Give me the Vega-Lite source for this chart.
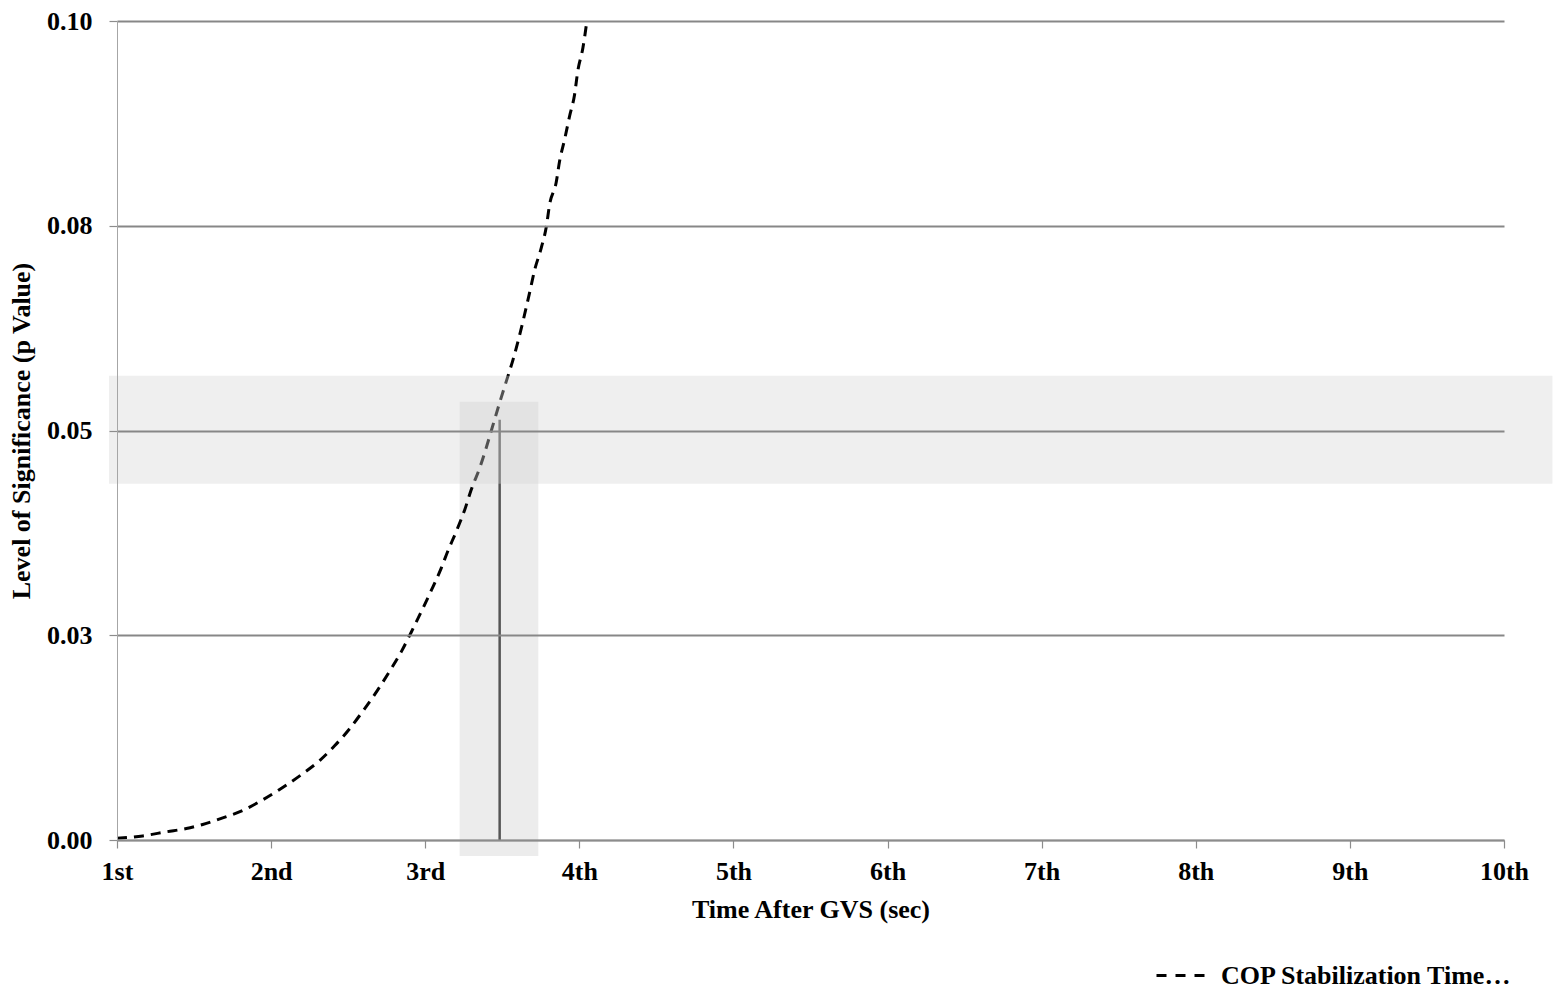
{
  "$schema": "https://vega.github.io/schema/vega-lite/v6.json",
  "width": 1387,
  "height": 819,
  "autosize": {"type": "none"},
  "padding": {"left": 117, "top": 21, "right": 49, "bottom": 157},
  "background": "#ffffff",
  "config": {
    "view": {"stroke": null},
    "font": "Liberation Serif"
  },
  "datasets": {
    "curve": [
      {"t": 1.000, "p": 0.0002},
      {"t": 1.167, "p": 0.0005},
      {"t": 1.320, "p": 0.0010},
      {"t": 1.450, "p": 0.0014},
      {"t": 1.556, "p": 0.0019},
      {"t": 1.686, "p": 0.0027},
      {"t": 1.815, "p": 0.0036},
      {"t": 1.945, "p": 0.0049},
      {"t": 2.075, "p": 0.0064},
      {"t": 2.205, "p": 0.0081},
      {"t": 2.315, "p": 0.0097},
      {"t": 2.412, "p": 0.0115},
      {"t": 2.510, "p": 0.0136},
      {"t": 2.594, "p": 0.0157},
      {"t": 2.691, "p": 0.0183},
      {"t": 2.769, "p": 0.0206},
      {"t": 2.845, "p": 0.0230},
      {"t": 2.910, "p": 0.0254},
      {"t": 2.985, "p": 0.0283},
      {"t": 3.040, "p": 0.0305},
      {"t": 3.104, "p": 0.0332},
      {"t": 3.145, "p": 0.0352},
      {"t": 3.202, "p": 0.0377},
      {"t": 3.256, "p": 0.0403},
      {"t": 3.299, "p": 0.0428},
      {"t": 3.353, "p": 0.0454},
      {"t": 3.396, "p": 0.0479},
      {"t": 3.437, "p": 0.0505},
      {"t": 3.483, "p": 0.0534},
      {"t": 3.526, "p": 0.0560},
      {"t": 3.569, "p": 0.0586},
      {"t": 3.677, "p": 0.0668},
      {"t": 3.710, "p": 0.0696},
      {"t": 3.753, "p": 0.0723},
      {"t": 3.786, "p": 0.0749},
      {"t": 3.807, "p": 0.0776},
      {"t": 3.850, "p": 0.0803},
      {"t": 3.872, "p": 0.0829},
      {"t": 3.904, "p": 0.0855},
      {"t": 3.937, "p": 0.0884},
      {"t": 3.969, "p": 0.0910},
      {"t": 3.990, "p": 0.0939},
      {"t": 4.023, "p": 0.0967},
      {"t": 4.049, "p": 0.1000}
    ],
    "timeBand": [{"t": 3.223, "t2": 3.734, "p": -0.00195, "p2": 0.0535}],
    "levelBand": [{"t": 0.948, "t2": 10.314, "p": 0.0435, "p2": 0.0567}],
    "marker": [{"t": 3.483, "p": 0, "p2": 0.0513}]
  },
  "encoding": {
    "x": {
      "field": "t",
      "type": "quantitative",
      "scale": {"domain": [1, 10], "nice": false, "zero": false},
      "axis": {
        "title": "Time After GVS (sec)",
        "values": [1, 2, 3, 4, 5, 6, 7, 8, 9, 10],
        "labelExpr": "datum.value == 1 ? '1st' : datum.value == 2 ? '2nd' : datum.value == 3 ? '3rd' : datum.value + 'th'",
        "labelFont": "Liberation Serif",
        "labelFontSize": 26,
        "labelFontWeight": "bold",
        "labelColor": "#000000",
        "labelPadding": 10,
        "labelFlush": false,
        "labelOverlap": false,
        "labelBound": false,
        "tickSize": 8,
        "tickColor": "#8c8c8c",
        "tickWidth": 1.2,
        "domainColor": "#8c8c8c",
        "domainWidth": 1.5,
        "grid": false,
        "titleFont": "Liberation Serif",
        "titleFontSize": 26,
        "titleFontWeight": "bold",
        "titleColor": "#000000",
        "titleBaseline": "alphabetic",
        "titleY": 77,
        "zindex": 1
      }
    },
    "y": {
      "field": "p",
      "type": "quantitative",
      "scale": {"domain": [0, 0.1], "nice": false},
      "axis": {
        "title": "Level of Significance (p Value)",
        "values": [0, 0.025, 0.05, 0.075, 0.1],
        "labelExpr": "datum.value == 0 ? '0.00' : datum.value == 0.025 ? '0.03' : datum.value == 0.05 ? '0.05' : datum.value == 0.075 ? '0.08' : '0.10'",
        "labelFont": "Liberation Serif",
        "labelFontSize": 26,
        "labelFontWeight": "bold",
        "labelColor": "#000000",
        "labelPadding": 17,
        "labelFlush": false,
        "labelOverlap": false,
        "labelBound": false,
        "tickSize": 8,
        "tickColor": "#8c8c8c",
        "tickWidth": 1.2,
        "domainColor": "#a6a6a6",
        "domainWidth": 1,
        "grid": true,
        "gridColor": "#878787",
        "gridWidth": 2,
        "titleFont": "Liberation Serif",
        "titleFontSize": 26,
        "titleFontWeight": "bold",
        "titleColor": "#000000",
        "titleBaseline": "alphabetic",
        "titleX": -88,
        "zindex": 1
      }
    }
  },
  "layer": [
    {
      "data": {"name": "timeBand"},
      "mark": {"type": "rect", "color": "#000000", "opacity": 0.075},
      "encoding": {"x2": {"field": "t2"}, "y2": {"field": "p2"}}
    },
    {
      "data": {"name": "curve"},
      "mark": {"type": "line", "strokeWidth": 3, "strokeDash": [10, 7], "interpolate": "monotone"},
      "encoding": {
        "color": {
          "datum": "COP Stabilization Time…",
          "type": "nominal",
          "scale": {"range": ["#000000"]},
          "legend": {
            "orient": "none",
            "legendX": 1038,
            "legendY": 929,
            "title": null,
            "padding": 0,
            "symbolType": "stroke",
            "symbolSize": 2304,
            "symbolStrokeWidth": 3,
            "symbolDash": [10, 9],
            "symbolStrokeColor": "#000000",
            "labelFont": "Liberation Serif",
            "labelFontSize": 26,
            "labelFontWeight": "bold",
            "labelColor": "#000000",
            "labelLimit": 1000,
            "labelOffset": 15
          }
        }
      }
    },
    {
      "data": {"name": "marker"},
      "mark": {"type": "rule", "color": "#555555", "strokeWidth": 2.5},
      "encoding": {"y2": {"field": "p2"}}
    },
    {
      "data": {"name": "levelBand"},
      "mark": {"type": "rect", "color": "#d5d5d5", "opacity": 0.38},
      "encoding": {"x2": {"field": "t2"}, "y2": {"field": "p2"}}
    }
  ]
}
